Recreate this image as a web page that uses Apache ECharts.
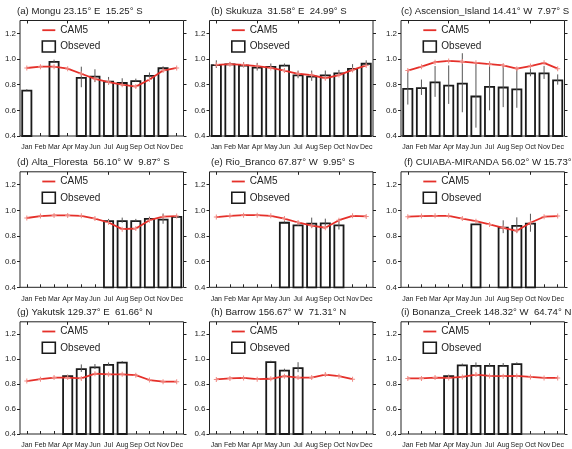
<!DOCTYPE html>
<html>
<head>
<meta charset="utf-8">
<script src="https://cdn.jsdelivr.net/npm/echarts@6/dist/echarts.min.js"></script>
<style>
  html, body { margin: 0; padding: 0; background: #fff; }
  #main { width: 572px; height: 449px; }
</style>
</head>
<body>
<div id="main"></div>
<script>
// months on the x axis
var months = ["Jan", "Feb", "Mar", "Apr", "May", "Jun", "Jul", "Aug", "Sep", "Oct", "Nov", "Dec"];

var titles = [
    "(a) Mongu 23.15° E  15.25° S",
    "(b) Skukuza  31.58° E  24.99° S",
    "(c) Ascension_Island 14.41° W  7.97° S",
    "(d) Alta_Floresta  56.10° W  9.87° S",
    "(e) Rio_Branco 67.87° W  9.95° S",
    "(f) CUIABA-MIRANDA 56.02° W 15.73° S",
    "(g) Yakutsk 129.37° E  61.66° N",
    "(h) Barrow 156.67° W  71.31° N",
    "(i) Bonanza_Creek 148.32° W  64.74° N"
];

// observed (bars), their spread (error bars) and CAM5 (red line), null = no data
var obsA = [0.76, null, 0.985, null, 0.86, 0.87, 0.83, 0.82, 0.835, 0.875, 0.935, null];
var errA = [0.005, null, 0.01, null, 0.08, 0.05, 0.03, 0.03, 0.012, 0.02, 0.008, null];
var camA = [0.93, 0.94, 0.94, 0.925, 0.885, 0.845, 0.82, 0.80, 0.785, 0.84, 0.91, 0.93];

var obsB = [0.96, 0.965, 0.955, 0.94, 0.945, 0.955, 0.88, 0.87, 0.88, 0.895, 0.93, 0.97];
var errB = [0.03, 0.01, 0.02, 0.03, 0.02, 0.01, 0.03, 0.04, 0.03, 0.02, 0.03, 0.02];
var camB = [0.955, 0.96, 0.955, 0.945, 0.93, 0.91, 0.885, 0.875, 0.85, 0.875, 0.915, 0.95];

var obsC = [0.775, 0.78, 0.825, 0.80, 0.815, 0.715, 0.79, 0.785, 0.77, 0.895, 0.895, 0.84];
var errC = [0.13, 0.06, 0.12, 0.15, 0.23, 0.25, 0.19, 0.16, 0.15, 0.03, 0.05, 0.04];
var camC = [0.91, 0.94, 0.975, 0.985, 0.98, 0.97, 0.96, 0.95, 0.925, 0.945, 0.97, 0.925];

var obsD = [null, null, null, null, null, null, 0.923, 0.923, 0.923, 0.94, 0.935, 0.955];
var errD = [null, null, null, null, null, null, 0.01, 0.02, 0.01, 0.01, 0.04, 0.005];
var camD = [0.94, 0.955, 0.96, 0.96, 0.957, 0.936, 0.905, 0.853, 0.858, 0.923, 0.95, 0.955];

var obsE = [null, null, null, null, null, 0.91, 0.89, 0.903, 0.905, 0.89, null, null];
var errE = [null, null, null, null, null, 0.005, 0.01, 0.04, 0.03, 0.04, null, null];
var camE = [0.947, 0.957, 0.962, 0.962, 0.957, 0.936, 0.905, 0.88, 0.864, 0.923, 0.957, 0.952];

var obsF = [null, null, null, null, null, 0.897, null, 0.872, 0.885, 0.903, null, null];
var errF = [null, null, null, null, null, 0.005, null, 0.05, 0.06, 0.07, null, null];
var camF = [0.95, 0.955, 0.957, 0.957, 0.936, 0.915, 0.89, 0.864, 0.84, 0.903, 0.95, 0.955];

var obsG = [null, null, null, 0.872, 0.928, 0.941, 0.962, 0.98, null, null, null, null];
var errG = [null, null, null, 0.004, 0.03, 0.02, 0.012, 0.005, null, null, null, null];
var camG = [0.825, 0.84, 0.853, 0.853, 0.846, 0.884, 0.879, 0.879, 0.872, 0.833, 0.82, 0.82];

var obsH = [null, null, null, null, 0.983, 0.916, 0.936, null, null, null, null, null];
var errH = [null, null, null, null, 0.005, 0.008, 0.04, null, null, null, null, null];
var camH = [0.838, 0.846, 0.85, 0.84, 0.843, 0.864, 0.853, 0.853, 0.877, 0.864, 0.84, null];

var obsI = [null, null, null, 0.872, 0.957, 0.954, 0.954, 0.954, 0.967, null, null, null];
var errI = [null, null, null, 0.004, 0.008, 0.02, 0.015, 0.015, 0.008, null, null, null];
var camI = [0.846, 0.846, 0.853, 0.85, 0.858, 0.877, 0.866, 0.864, 0.866, 0.858, 0.85, 0.85];

var obsAll = [obsA, obsB, obsC, obsD, obsE, obsF, obsG, obsH, obsI];
var errAll = [errA, errB, errC, errD, errE, errF, errG, errH, errI];
var camAll = [camA, camB, camC, camD, camE, camF, camG, camH, camI];

(function () {
    var colLeft = [20, 209.5, 401];
    var rowTop = [20.5, 171.8, 321.8];
    var titleLeft = [17, 211, 401, 17, 211, 404, 17, 211, 401];
    var plotW = 163.5, plotH = 115.5;
    var fontName = "Liberation Sans";
    var red = "#e5302a";

    var chart = echarts.init(document.getElementById("main"));

    var option = {
        animation: false,
        backgroundColor: "#fff",
        textStyle: {fontFamily: fontName},
        title: [],
        legend: [],
        grid: [],
        xAxis: [],
        yAxis: [],
        series: []
    };

    function errRender(params, api) {
        var x = api.value(0), v = api.value(1), e = api.value(2);
        var p1 = api.coord([x, v - e]);
        var p2 = api.coord([x, v + e]);
        return {
            type: "line",
            shape: {x1: p1[0], y1: p1[1], x2: p2[0], y2: p2[1]},
            style: {stroke: "#555", lineWidth: 1}
        };
    }

    for (var k = 0; k < 9; k++) {
        var gx = colLeft[k % 3], gy = rowTop[Math.floor(k / 3)];

        option.title.push({
            text: titles[k],
            left: titleLeft[k],
            top: gy - 14,
            padding: 0,
            textStyle: {fontSize: 9.6, fontWeight: "normal", color: "#222", fontFamily: fontName}
        });

        option.legend.push({
            orient: "vertical",
            left: gx + 21.5,
            top: gy + 4.7,
            padding: 0,
            itemWidth: 13,
            itemHeight: 11,
            itemGap: 5,
            selectedMode: false,
            textStyle: {fontSize: 10, color: "#222", fontFamily: fontName},
            data: [
                {name: "CAM5", icon: "path://M0,0L13,0L13,1.8L0,1.8Z", itemStyle: {color: red, borderWidth: 0}},
                {name: "Obseved", icon: "rect", itemStyle: {color: "#fff", borderColor: "#1a1a1a", borderWidth: 1.6}}
            ]
        });

        option.grid.push({
            left: gx, top: gy, width: plotW, height: plotH,
            show: true, borderColor: "#222", borderWidth: 1, backgroundColor: "transparent"
        });

        // bottom axis (labels) and top axis (ticks only)
        option.xAxis.push({
            type: "category", gridIndex: k, data: months, position: "bottom",
            boundaryGap: true,
            axisLine: {show: false},
            axisTick: {show: true, inside: true, alignWithLabel: true, length: 3, lineStyle: {color: "#222"}},
            axisLabel: {interval: 0, fontSize: 7, color: "#222", margin: 8, fontFamily: fontName},
            splitLine: {show: false}
        });
        option.xAxis.push({
            type: "category", gridIndex: k, data: months, position: "top",
            boundaryGap: true,
            axisLine: {show: false},
            axisTick: {show: true, inside: true, alignWithLabel: true, length: 3, lineStyle: {color: "#222"}},
            axisLabel: {show: false},
            splitLine: {show: false}
        });

        // left axis (labels) and right axis (ticks only)
        option.yAxis.push({
            type: "value", gridIndex: k, min: 0.4, max: 1.3, interval: 0.2, position: "left",
            axisLine: {show: false},
            axisTick: {show: true, length: 3, lineStyle: {color: "#222"}},
            axisLabel: {fontSize: 8, color: "#222", margin: 4, showMaxLabel: false, fontFamily: fontName,
                formatter: function (v) { return v.toFixed(1); }},
            splitLine: {show: false}
        });
        option.yAxis.push({
            type: "value", gridIndex: k, min: 0.4, max: 1.3, interval: 0.2, position: "right",
            axisLine: {show: false},
            axisTick: {show: true, length: 3, lineStyle: {color: "#222"}},
            axisLabel: {show: false},
            splitLine: {show: false}
        });

        option.series.push({
            name: "Obseved",
            type: "bar",
            xAxisIndex: k * 2, yAxisIndex: k * 2,
            barWidth: 11,
            data: obsAll[k],
            itemStyle: {color: "#fff", borderColor: "#1a1a1a", borderWidth: 1.8}
        });

        var errData = [];
        for (var m = 0; m < 12; m++) {
            if (obsAll[k][m] != null) errData.push([m, obsAll[k][m], errAll[k][m]]);
        }
        option.series.push({
            type: "custom",
            xAxisIndex: k * 2, yAxisIndex: k * 2,
            data: errData,
            renderItem: errRender,
            z: 3
        });

        option.series.push({
            name: "CAM5",
            type: "line",
            xAxisIndex: k * 2, yAxisIndex: k * 2,
            data: camAll[k],
            symbol: "path://M2,0L3,0L3,2L5,2L5,3L3,3L3,5L2,5L2,3L0,3L0,2L2,2Z",
            symbolSize: 5,
            showSymbol: true,
            connectNulls: false,
            lineStyle: {color: red, width: 1.8},
            itemStyle: {color: "#f08a84"},
            z: 4
        });
    }

    chart.setOption(option);
})();
</script>
</body>
</html>
